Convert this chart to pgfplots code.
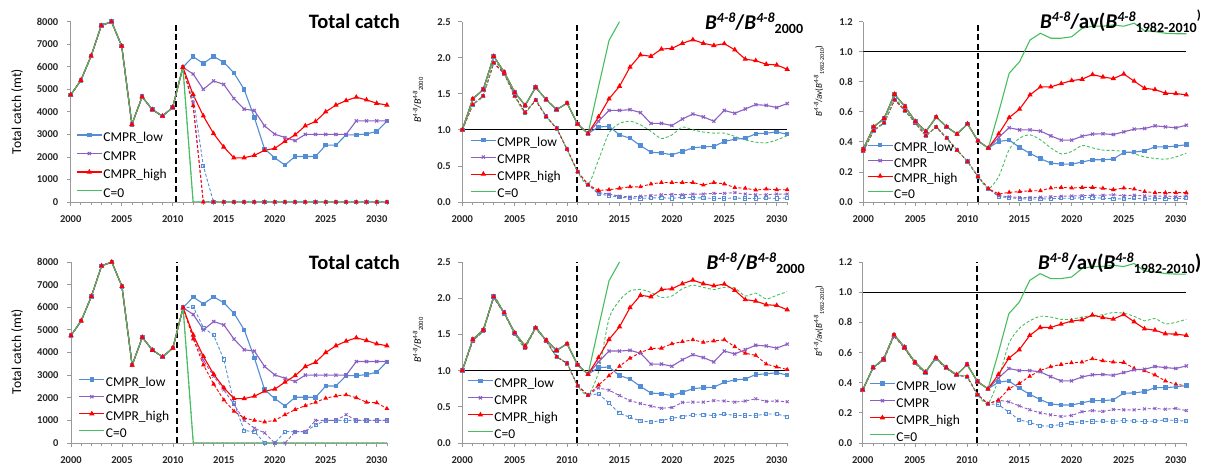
\documentclass[border=0pt]{standalone}
\usepackage{pgfplots}
\pgfplotsset{compat=1.18}
\usepackage{pgfplotstable}
\usepackage{fontspec}
\setmainfont{Carlito}
\definecolor{cblue}{RGB}{83,141,213}
\definecolor{cpurp}{RGB}{140,95,195}
\definecolor{cred}{RGB}{255,0,0}
\definecolor{cgreen}{RGB}{70,190,95}

% ---------------- data ----------------
\pgfplotstableread{
year low cmpr high czero
2000 4750 4750 4750 4750
2001 5400 5400 5400 5400
2002 6480 6480 6480 6480
2003 7830 7830 7830 7830
2004 8000 8000 8000 8000
2005 6920 6920 6920 6920
2006 3440 3440 3440 3440
2007 4670 4670 4670 4670
2008 4100 4100 4100 4100
2009 3810 3810 3810 3810
2010 4200 4200 4200 4200
2011 5980 5980 5980 5980
2012 6450 5680 4770 0
2013 6150 5000 3820 0
2014 6460 5370 3040 0
2015 6200 5220 2440 0
2016 5730 4590 1960 0
2017 5000 4120 1960 0
2018 3760 4060 2070 0
2019 2360 3380 2290 0
2020 1960 3010 2380 0
2021 1640 2860 2690 0
2022 2020 2720 2980 0
2023 2020 3000 3380 0
2024 2020 3000 3570 0
2025 2520 3000 4000 0
2026 2520 3000 4300 0
2027 2980 3000 4500 0
2028 2980 3600 4650 0
2029 3020 3600 4530 0
2030 3130 3600 4380 0
2031 3590 3600 4300 0
}\tabSa

\pgfplotstableread{
year low cmpr high czero
2000 4750 4750 4750 4750
2001 5400 5400 5400 5400
2002 6480 6480 6480 6480
2003 7830 7830 7830 7830
2004 8000 8000 8000 8000
2005 6920 6920 6920 6920
2006 3440 3440 3440 3440
2007 4670 4670 4670 4670
2008 4100 4100 4100 4100
2009 3810 3810 3810 3810
2010 4200 4200 4200 4200
2011 5980 5980 5980 5980
2012 4700 4400 4270 0
2013 1600 0 0 0
2014 0 0 0 0
2015 0 0 0 0
2016 0 0 0 0
2017 0 0 0 0
2018 0 0 0 0
2019 0 0 0 0
2020 0 0 0 0
2021 0 0 0 0
2022 0 0 0 0
2023 0 0 0 0
2024 0 0 0 0
2025 0 0 0 0
2026 0 0 0 0
2027 0 0 0 0
2028 0 0 0 0
2029 0 0 0 0
2030 0 0 0 0
2031 0 0 0 0
}\tabDat

\pgfplotstableread{
year low cmpr high czero
2000 4750 4750 4750 4750
2001 5400 5400 5400 5400
2002 6480 6480 6480 6480
2003 7830 7830 7830 7830
2004 8000 8000 8000 8000
2005 6920 6920 6920 6920
2006 3440 3440 3440 3440
2007 4670 4670 4670 4670
2008 4100 4100 4100 4100
2009 3810 3810 3810 3810
2010 4200 4200 4200 4200
2011 5980 5980 5980 5980
2012 6010 4700 4600 0
2013 5100 3650 3450 0
2014 4760 2950 2600 0
2015 3690 2350 1900 0
2016 1750 1700 1400 0
2017 550 1000 1100 0
2018 500 650 1000 0
2019 0 450 930 0
2020 0 0 1000 0
2021 500 0 1250 0
2022 500 500 1480 0
2023 500 500 1650 0
2024 800 1000 1800 0
2025 1000 1000 1980 0
2026 1000 1000 2080 0
2027 1000 1250 2130 0
2028 1000 1000 2000 0
2029 1000 1000 1800 0
2030 1000 1000 1780 0
2031 1000 1000 1520 0
}\tabDab

\pgfplotstableread{
year low cmpr high czero
2000 1.00 1.00 1.00 1.00
2001 1.43 1.43 1.43 1.43
2002 1.56 1.56 1.56 1.56
2003 2.02 2.02 2.02 2.02
2004 1.80 1.80 1.80 1.80
2005 1.52 1.52 1.52 1.52
2006 1.34 1.34 1.34 1.34
2007 1.59 1.59 1.59 1.59
2008 1.42 1.42 1.42 1.42
2009 1.28 1.28 1.28 1.28
2010 1.37 1.37 1.37 1.37
2011 1.08 1.08 1.08 1.08
2012 0.95 0.95 0.95 0.95
2013 1.04 1.12 1.18 1.60
2014 1.05 1.27 1.43 2.24
2015 0.93 1.27 1.605 2.50
2016 0.885 1.28 1.87 nan
2017 0.78 1.24 2.04 nan
2018 0.69 1.09 2.02 nan
2019 0.68 1.09 2.12 nan
2020 0.655 1.06 2.13 nan
2021 0.70 1.15 2.20 nan
2022 0.75 1.22 2.25 nan
2023 0.765 1.18 2.20 nan
2024 0.77 1.12 2.17 nan
2025 0.84 1.27 2.195 nan
2026 0.87 1.23 2.11 nan
2027 0.885 1.29 1.98 nan
2028 0.945 1.35 1.96 nan
2029 0.955 1.34 1.91 nan
2030 0.97 1.31 1.90 nan
2031 0.94 1.365 1.84 nan
}\tabSb

\pgfplotstableread{
year low cmpr high czero
2000 1.00 1.00 1.00 1.00
2001 1.35 1.35 1.35 1.35
2002 1.47 1.47 1.47 1.47
2003 1.93 1.93 1.93 1.93
2004 1.78 1.78 1.78 1.78
2005 1.47 1.47 1.47 1.47
2006 1.24 1.24 1.24 1.24
2007 1.41 1.41 1.41 1.41
2008 1.185 1.185 1.185 1.185
2009 1.02 1.02 1.02 1.02
2010 0.73 0.73 0.73 0.73
2011 0.42 0.42 0.42 0.42
2012 0.24 0.24 0.24 0.24
2013 0.11 0.13 0.16 0.585
2014 0.09 0.11 0.17 0.96
2015 0.065 0.08 0.19 1.09
2016 0.055 0.07 0.21 1.12
2017 0.05 0.08 0.21 1.07
2018 0.055 0.09 0.25 0.98
2019 0.06 0.10 0.27 0.88
2020 0.05 0.105 0.27 0.93
2021 0.065 0.10 0.27 1.04
2022 0.06 0.11 0.27 1.00
2023 0.055 0.11 0.235 0.97
2024 0.05 0.12 0.27 0.955
2025 0.05 0.12 0.25 0.955
2026 0.055 0.13 0.20 0.91
2027 0.05 0.11 0.19 0.86
2028 0.05 0.10 0.165 0.83
2029 0.055 0.10 0.18 0.82
2030 0.05 0.11 0.17 0.86
2031 0.055 0.11 0.17 0.92
}\tabDbt

\pgfplotstableread{
year low cmpr high czero
2000 1.00 1.00 1.00 1.00
2001 1.41 1.41 1.41 1.41
2002 1.55 1.55 1.55 1.55
2003 2.01 2.01 2.01 2.01
2004 1.79 1.79 1.79 1.79
2005 1.51 1.51 1.51 1.51
2006 1.32 1.32 1.32 1.32
2007 1.59 1.59 1.59 1.59
2008 1.41 1.41 1.41 1.41
2009 1.19 1.19 1.19 1.19
2010 1.10 1.10 1.10 1.10
2011 0.79 0.79 0.79 0.79
2012 0.66 0.66 0.66 0.66
2013 0.68 0.76 0.80 0.98
2014 0.55 0.73 0.93 1.72
2015 0.41 0.655 1.06 1.97
2016 0.355 0.585 1.17 2.10
2017 0.305 0.545 1.25 2.12
2018 0.29 0.51 1.305 2.08
2019 0.31 0.48 1.31 2.01
2020 0.34 0.49 1.37 2.03
2021 0.365 0.56 1.40 2.13
2022 0.39 0.565 1.425 2.18
2023 0.39 0.565 1.39 2.15
2024 0.38 0.585 1.41 2.12
2025 0.40 0.58 1.425 2.15
2026 0.38 0.565 1.33 2.14
2027 0.38 0.58 1.24 2.03
2028 0.38 0.61 1.21 2.07
2029 0.40 0.575 1.09 1.99
2030 0.40 0.58 1.05 2.04
2031 0.365 0.57 1.015 2.09
}\tabDbb

\pgfplotstableread{
year low cmpr high czero
2000 0.352 0.352 0.352 0.352
2001 0.50 0.50 0.50 0.50
2002 0.556 0.556 0.556 0.556
2003 0.717 0.717 0.717 0.717
2004 0.635 0.635 0.635 0.635
2005 0.536 0.536 0.536 0.536
2006 0.469 0.469 0.469 0.469
2007 0.565 0.565 0.565 0.565
2008 0.50 0.50 0.50 0.50
2009 0.452 0.452 0.452 0.452
2010 0.52 0.52 0.52 0.52
2011 0.407 0.407 0.407 0.407
2012 0.359 0.359 0.359 0.359
2013 0.403 0.43 0.454 0.60
2014 0.412 0.494 0.562 0.857
2015 0.363 0.48 0.618 0.934
2016 0.323 0.48 0.713 1.078
2017 0.288 0.472 0.766 1.123
2018 0.259 0.44 0.766 1.09
2019 0.252 0.412 0.788 1.09
2020 0.252 0.412 0.808 1.10
2021 0.266 0.438 0.817 1.156
2022 0.281 0.452 0.848 1.17
2023 0.281 0.454 0.832 1.17
2024 0.286 0.449 0.821 1.178
2025 0.33 0.467 0.852 1.17
2026 0.332 0.485 0.804 1.19
2027 0.341 0.489 0.757 1.14
2028 0.367 0.507 0.748 1.134
2029 0.367 0.50 0.724 1.123
2030 0.372 0.494 0.722 1.12
2031 0.381 0.511 0.713 1.12
}\tabSc

\pgfplotstableread{
year low cmpr high czero
2000 0.34 0.34 0.34 0.34
2001 0.476 0.476 0.476 0.476
2002 0.527 0.527 0.527 0.527
2003 0.68 0.68 0.68 0.68
2004 0.609 0.609 0.609 0.609
2005 0.525 0.525 0.525 0.525
2006 0.443 0.443 0.443 0.443
2007 0.498 0.498 0.498 0.498
2008 0.425 0.425 0.425 0.425
2009 0.345 0.345 0.345 0.345
2010 0.27 0.27 0.27 0.27
2011 0.17 0.17 0.17 0.17
2012 0.089 0.089 0.089 0.089
2013 0.035 0.042 0.053 0.17
2014 0.029 0.035 0.064 0.35
2015 0.022 0.03 0.069 0.425
2016 0.02 0.03 0.075 0.447
2017 0.02 0.032 0.075 0.414
2018 0.022 0.035 0.093 0.36
2019 0.025 0.038 0.097 0.32
2020 0.025 0.04 0.093 0.336
2021 0.028 0.042 0.097 0.376
2022 0.03 0.045 0.097 0.36
2023 0.025 0.045 0.091 0.345
2024 0.022 0.048 0.082 0.343
2025 0.02 0.042 0.093 0.336
2026 0.025 0.045 0.086 0.32
2027 0.02 0.04 0.069 0.30
2028 0.022 0.038 0.062 0.29
2029 0.022 0.04 0.062 0.285
2030 0.022 0.035 0.062 0.30
2031 0.025 0.04 0.062 0.325
}\tabDct

\pgfplotstableread{
year low cmpr high czero
2000 0.35 0.35 0.35 0.35
2001 0.50 0.50 0.50 0.50
2002 0.55 0.55 0.55 0.55
2003 0.71 0.71 0.71 0.71
2004 0.63 0.63 0.63 0.63
2005 0.53 0.53 0.53 0.53
2006 0.47 0.47 0.47 0.47
2007 0.56 0.56 0.56 0.56
2008 0.495 0.495 0.495 0.495
2009 0.45 0.45 0.45 0.45
2010 0.44 0.44 0.44 0.44
2011 0.32 0.32 0.32 0.32
2012 0.26 0.26 0.26 0.26
2013 0.255 0.284 0.284 0.42
2014 0.204 0.273 0.36 0.66
2015 0.154 0.246 0.395 0.76
2016 0.136 0.22 0.442 0.81
2017 0.114 0.20 0.481 0.84
2018 0.112 0.187 0.505 0.835
2019 0.123 0.176 0.521 0.82
2020 0.134 0.182 0.532 0.82
2021 0.141 0.207 0.536 0.835
2022 0.143 0.215 0.558 0.845
2023 0.145 0.209 0.545 0.85
2024 0.143 0.222 0.536 0.865
2025 0.149 0.22 0.534 0.86
2026 0.145 0.22 0.495 0.84
2027 0.143 0.226 0.479 0.81
2028 0.145 0.229 0.451 0.825
2029 0.154 0.224 0.411 0.79
2030 0.149 0.229 0.389 0.80
2031 0.145 0.215 0.38 0.82
}\tabDcb

% ---------------- styles ----------------
\pgfplotsset{
 panel/.style={scale only axis, xmin=2000, xmax=2031, ymin=0,
  axis x line*=bottom, axis y line*=left,
  axis line style={draw=black!40, line width=0.8pt},
  tick style={draw=black!40, line width=0.8pt},
  tick align=outside,
  xtick={2000,2005,...,2030}, minor xtick={2000,2001,...,2031},
  major tick length=4pt, minor tick length=3.5pt,
  ticklabel style={font=\bfseries\fontsize{10.5}{12}\selectfont, text=black!85},
  xticklabel style={yshift=-6pt},
  /pgf/number format/1000 sep={},
  /pgf/number format/assume math mode=true,
  legend style={draw=none, fill=none, font=\fontsize{13.5}{14}\selectfont,
    anchor=north west, inner sep=0pt,
    nodes={inner sep=1pt, text height=9pt, text depth=3pt}, row sep=3pt},
  legend cell align=left,
  legend image code/.code={\draw[mark repeat=2,mark phase=2,##1] plot coordinates {(0pt,3.5pt) (12.5pt,3.5pt) (25pt,3.5pt)};},
 },
 sLow/.style={color=cblue, line width=1.1pt, mark=square*, mark size=1.7pt},
 sCmpr/.style={color=cpurp, line width=1.1pt, mark=x, mark size=2.2pt},
 sHigh/.style={color=cred, line width=1.1pt, mark=triangle*, mark size=2pt},
 sCzero/.style={color=cgreen, line width=1.1pt, no marks},
 dLow/.style={color=cblue, line width=0.9pt, dash pattern=on 3pt off 2pt, mark=square, mark size=1.6pt, mark options={solid}},
 dCmpr/.style={color=cpurp, line width=0.9pt, dash pattern=on 3pt off 2pt, mark=x, mark size=2pt, mark options={solid}},
 dHigh/.style={color=cred, line width=0.9pt, dash pattern=on 3pt off 2pt, mark=triangle*, mark size=1.8pt, mark options={solid}},
 dCzero/.style={color=cgreen, line width=0.9pt, dash pattern=on 3pt off 2pt, no marks},
 dCzeroS/.style={dCzero, smooth, tension=0.4},
 vline/.style={black, line width=1.8pt, dash pattern=on 6pt off 3.5pt, no marks, forget plot},
 hline/.style={black, line width=0.9pt, no marks, forget plot},
}

\newcommand{\panelplots}[3]{%
 \addplot[dLow, forget plot] table[x=year,y=low]{#2};
 \addplot[dCmpr, forget plot] table[x=year,y=cmpr]{#2};
 \addplot[dHigh, forget plot] table[x=year,y=high]{#2};
 \addplot[#3, forget plot] table[x=year,y=czero]{#2};
 \addplot[sLow] table[x=year,y=low]{#1}; \addlegendentry{CMPR\_low}
 \addplot[sCmpr] table[x=year,y=cmpr]{#1}; \addlegendentry{CMPR}
 \addplot[sHigh] table[x=year,y=high]{#1}; \addlegendentry{CMPR\_high}
 \addplot[sCzero] table[x=year,y=czero]{#1}; \addlegendentry{C=0}
}

\newcommand{\Bt}{\textit{B}\raisebox{7pt}{\fontsize{14}{14}\selectfont\textit{4-8}}}
\newcommand{\Bl}{\textit{B}\raisebox{3.5pt}{\fontsize{6.5}{6.5}\selectfont\textit{4-8}}}
\newcommand{\titleTwo}{{\bfseries\fontsize{21}{22}\selectfont\Bt/\Bt\raisebox{-4.5pt}{\fontsize{14}{14}\selectfont 2000}}}
\newcommand{\titleThreeTop}{{\bfseries\fontsize{21}{22}\selectfont\Bt/av(\Bt\raisebox{-4.5pt}{\fontsize{14}{14}\selectfont 1982-2010}\raisebox{9pt}{\fontsize{13}{13}\selectfont )}}}
\newcommand{\titleThreeBot}{{\bfseries\fontsize{21}{22}\selectfont\Bt/av(\Bt\raisebox{-4.5pt}{\fontsize{14}{14}\selectfont 1982-2010})}}
\newcommand{\labTwo}{{\fontsize{9.8}{10}\selectfont\Bl/\Bl\raisebox{-2.2pt}{\fontsize{6.5}{6.5}\selectfont 2000}}}
\newcommand{\labThree}{{\fontsize{9}{10}\selectfont\Bl/av(\Bl\raisebox{-2.2pt}{\fontsize{6}{6}\selectfont 1982-2010})}}

\begin{document}
\begin{tikzpicture}
\useasboundingbox (0pt,0pt) rectangle (1213pt,470pt);

% ===== top row =====
\begin{axis}[panel, at={(70.7pt,268pt)}, anchor=south west, width=316.2pt, height=180.3pt,
  ymax=8000, ytick={0,1000,...,8000}, yticklabel style={xshift=-5pt},
  legend style={at={(axis description cs:0.017,0.392)}, row sep=4.5pt}]
 \addplot[vline] coordinates {(2010.3,0) (2010.3,8000)};
 \panelplots{\tabSa}{\tabDat}{dCzero}
\end{axis}
\begin{axis}[panel, at={(462.3pt,268pt)}, anchor=south west, width=324.9pt, height=180.3pt,
  ymax=2.5, ytick={0,0.5,1.0,1.5,2.0,2.5},
  yticklabel style={xshift=-4pt, /pgf/number format/fixed, /pgf/number format/fixed zerofill, /pgf/number format/precision=1},
  legend style={at={(axis description cs:0.024,0.364)}}]
 \addplot[hline] coordinates {(2000,1) (2031,1)};
 \addplot[vline] coordinates {(2010.95,0) (2010.95,2.5)};
 \panelplots{\tabSb}{\tabDbt}{dCzeroS}
\end{axis}
\begin{axis}[panel, at={(863.3pt,268pt)}, anchor=south west, width=323pt, height=180.3pt,
  ymax=1.2, ytick={0,0.2,0.4,0.6,0.8,1.0,1.2},
  yticklabel style={xshift=-3pt, /pgf/number format/fixed, /pgf/number format/fixed zerofill, /pgf/number format/precision=1},
  legend style={at={(axis description cs:0.011,0.336)}, row sep=1.5pt}]
 \addplot[hline] coordinates {(2000,1) (2031,1)};
 \addplot[vline] coordinates {(2011,0) (2011,1.2)};
 \panelplots{\tabSc}{\tabDct}{dCzeroS}
\end{axis}

% ===== bottom row =====
\begin{axis}[panel, at={(71pt,27pt)}, anchor=south west, width=315.9pt, height=181pt,
  ymax=8000, ytick={0,1000,...,8000}, yticklabel style={xshift=-5pt},
  legend style={at={(axis description cs:0.024,0.370)}}]
 \addplot[vline] coordinates {(2010.4,0) (2010.4,8000)};
 \panelplots{\tabSa}{\tabDab}{dCzero}
\end{axis}
\begin{axis}[panel, at={(462.3pt,27pt)}, anchor=south west, width=324.9pt, height=181pt,
  ymax=2.5, ytick={0,0.5,1.0,1.5,2.0,2.5},
  yticklabel style={xshift=-4pt, /pgf/number format/fixed, /pgf/number format/fixed zerofill, /pgf/number format/precision=1},
  legend style={at={(axis description cs:0.015,0.364)}}]
 \addplot[hline] coordinates {(2000,1) (2031,1)};
 \addplot[vline] coordinates {(2010.95,0) (2010.95,2.5)};
 \panelplots{\tabSb}{\tabDbb}{dCzeroS}
\end{axis}
\begin{axis}[panel, at={(862.7pt,27pt)}, anchor=south west, width=323.6pt, height=181pt,
  ymax=1.2, ytick={0,0.2,0.4,0.6,0.8,1.0,1.2},
  yticklabel style={xshift=-3pt, /pgf/number format/fixed, /pgf/number format/fixed zerofill, /pgf/number format/precision=1},
  legend style={at={(axis description cs:0.02,0.348)}}]
 \addplot[hline] coordinates {(2000,1) (2031,1)};
 \addplot[vline] coordinates {(2010.98,0) (2010.98,1.2)};
 \panelplots{\tabSc}{\tabDcb}{dCzeroS}
\end{axis}

% ===== titles =====
\node[anchor=base east, font=\bfseries\fontsize{20.5}{22}\selectfont, inner sep=0pt] at (400pt,441pt) {Total catch};
\node[anchor=base east, font=\bfseries\fontsize{20.5}{22}\selectfont, inner sep=0pt] at (400pt,200.7pt) {Total catch};
\node[anchor=base west, inner sep=0pt] at (705pt,440.7pt) {\titleTwo};
\node[anchor=base west, inner sep=0pt] at (706.5pt,200.7pt) {\titleTwo};
\node[anchor=base west, inner sep=0pt] at (1040pt,441.5pt) {\titleThreeTop};
\node[anchor=base west, inner sep=0pt] at (1038pt,200.7pt) {\titleThreeBot};

% ===== y labels =====
\node[rotate=90, font=\fontsize{13.5}{14}\selectfont] at (17pt,358.3pt) {Total catch (mt)};
\node[rotate=90, font=\fontsize{13.5}{14}\selectfont] at (17pt,118.3pt) {Total catch (mt)};
\node[rotate=90] at (418pt,370pt) {\labTwo};
\node[rotate=90] at (418pt,130pt) {\labTwo};
\node[rotate=90] at (819pt,389pt) {\labThree};
\node[rotate=90] at (819pt,149pt) {\labThree};
\end{tikzpicture}
\end{document}
